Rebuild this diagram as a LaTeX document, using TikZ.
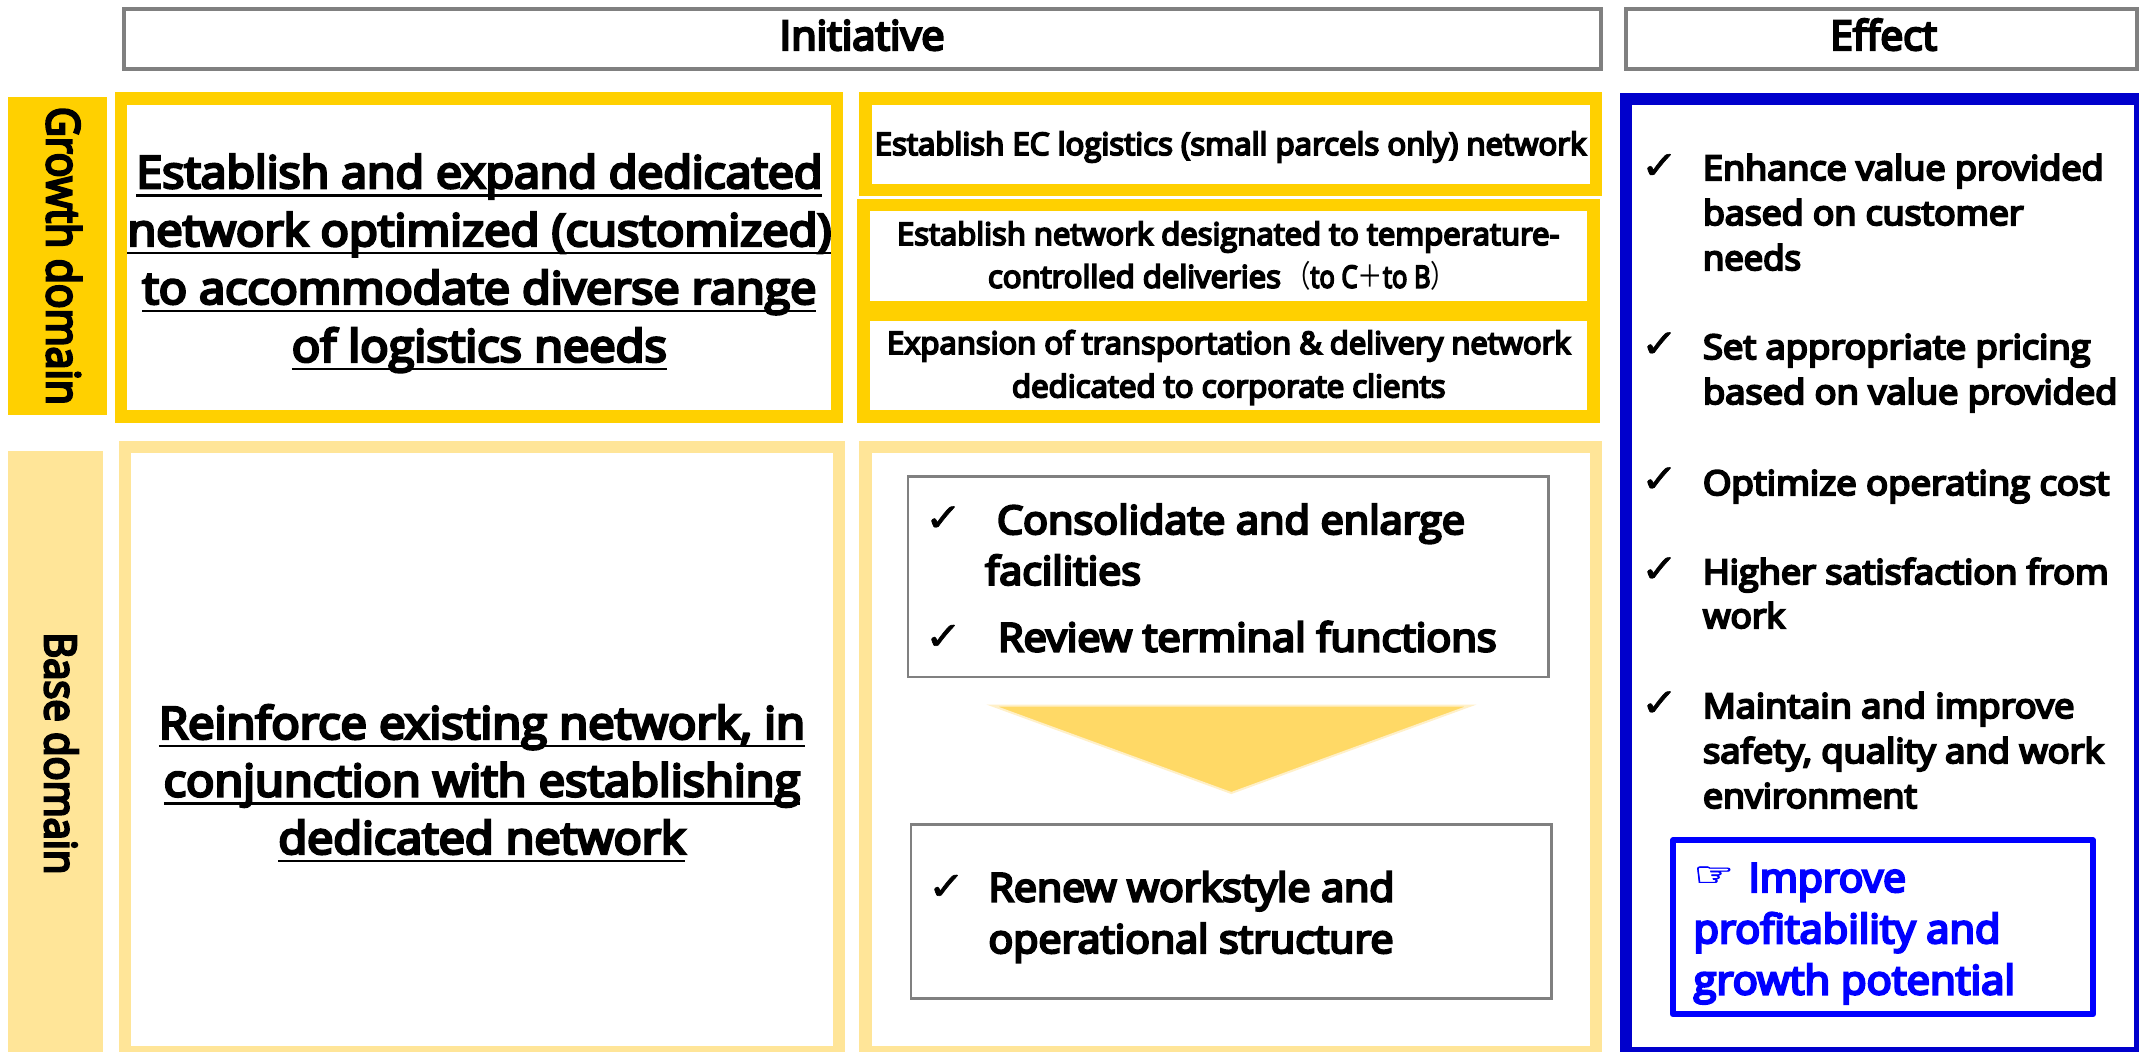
\documentclass[tikz,border=0pt]{standalone}
\usepackage{graphicx}
\usepackage{fontspec}
\setmainfont{Open Sans}
\newfontfamily\semi{Open Sans}[FakeBold=6]
\newfontfamily\djv{DejaVu Sans}[FakeBold=1.5]
\newfontfamily\cjk{Noto Sans CJK JP}
\newdimen\px \px=0.75pt
\definecolor{goldc}{HTML}{FFD000}
\definecolor{paleg}{HTML}{FFE598}
\definecolor{navyb}{HTML}{0000CC}
\definecolor{pureb}{HTML}{0000FF}
\definecolor{grayb}{HTML}{808080}
\definecolor{arrowf}{HTML}{FFD966}
\definecolor{arrowe}{HTML}{FFF0C8}
\newcommand\fw[2]{\resizebox{#1\px}{\height}{#2}}
\newcommand\blk[3]{\vbox{\hsize=#1\px\baselineskip=#2\px\lineskiplimit=-1000pt\relax\parindent=0pt #3}}
\newcommand\lft[2]{\hbox{\fw{#1}{#2}}}
\newcommand\ctr[2]{\hbox to \hsize{\hss\fw{#1}{#2}\hss}}
\newcommand\ulw[2]{\hbox to \hsize{\hss\rlap{\raisebox{-8.5\px}{\rule{#1\px}{2.6\px}}}\fw{#1}{#2}\hss}}
\newcommand\frm[5]{\fill[#1] (#2) rectangle (#3); \fill[white] (#4) rectangle (#5);}
\tikzset{
  txt/.style={inner sep=0pt,outer sep=0pt,anchor=base west,text=black},
  chk/.style={inner sep=0pt,outer sep=0pt,anchor=south west,text=black},
  hdr/.style={draw=grayb,line width=4\px,fill=white},
  graybox/.style={draw=grayb,line width=2.5\px,fill=white},
  side/.style={inner sep=0pt,outer sep=0pt,anchor=base west,rotate=-90,text=black}
}
\newcommand\ck{\resizebox*{37\px}{24.5\px}{\djv ✓}}
\begin{document}
\begin{tikzpicture}[x=0.75pt,y=-0.75pt]
\useasboundingbox (0,0) rectangle (2139,1052);
\fill[white] (0,0) rectangle (2139,1052);
% header boxes
\draw[hdr] (124,9) rectangle (1601,69);
\draw[hdr] (1626,9) rectangle (2137,69);
\node[txt] (hinit) at (779.6,50) {\semi\fontsize{30.5}{36}\selectfont\fw{165}{Initiative}};
\node[txt] (heff) at (1830.3,50) {\semi\fontsize{30.5}{36}\selectfont\fw{106.6}{Effect}};
% domain tabs
\fill[goldc] (8,97) rectangle (107,415);
\fill[paleg] (8,451) rectangle (103,1052);
\node[side] (growth) at (47,107) {\semi\resizebox{298\px}{34.5\px}{Growth domain}};
\node[side] (base) at (45,632.4) {\semi\resizebox{242\px}{33\px}{Base domain}};
% growth frames
\frm{goldc}{115.4,92.3}{843,422.7}{127.4,104.7}{831,410.3}
\frm{goldc}{859,92.3}{1602,195.7}{871.6,104.7}{1589.5,183.7}
\fill[goldc] (857.3,199) rectangle (1600,422.7);
\fill[white] (869.6,211) rectangle (1587.4,301);
\fill[white] (869.6,320.7) rectangle (1587.4,410.3);
% base frames
\frm{paleg}{118.5,440.7}{845.3,1052}{130.5,452.6}{833,1046}
\frm{paleg}{859,440.7}{1602,1052}{871.6,452.6}{1589.5,1046}
% effect frame
\frm{navyb}{1619.6,93.3}{2139,1052}{1631.6,105.3}{2134,1047.3}
% big texts
\node[txt] (bigg) at (127.4,361.7) {\semi\fontsize{33.3}{40}\selectfont\blk{704}{57.9}{%
  \ulw{686}{Establish and expand dedicated}%
  \ulw{704}{network optimized (customized)}%
  \ulw{674}{to accommodate diverse range}%
  \ulw{375}{of logistics needs}}};
\node[txt] (bigb) at (130,853.8) {\semi\fontsize{33.3}{40}\selectfont\blk{704}{57.5}{%
  \ulw{646}{Reinforce existing network, in}%
  \ulw{636.5}{conjunction with establishing}%
  \ulw{407}{dedicated network}}};
% growth detail
\node[txt] (ec) at (874.7,155) {\semi\fontsize{23.2}{30}\selectfont\fw{711.7}{Establish EC logistics (small parcels only) network}};
\node[txt] (temp) at (897,287.7) {\semi\fontsize{23.2}{32}\selectfont\blk{662.4}{42.7}{%
  \lft{662.4}{Establish network designated to temperature-}%
  \hbox{\hskip 91\px\fw{293}{controlled deliveries}\hskip 4\px{\fontsize{23}{24}\selectfont\fw{171}{{\cjk （}to C{\cjk ＋}to B{\cjk ）}}}}}};
\node[txt] (corp) at (887,397.3) {\semi\fontsize{23.2}{32}\selectfont\blk{683.6}{43.3}{%
  \ctr{683.6}{Expansion of transportation \& delivery network}%
  \ctr{433.6}{dedicated to corporate clients}}};
% base detail
\draw[graybox] (907.9,476.4) rectangle (1548.7,677.2);
\draw[graybox] (911,824.4) rectangle (1551.7,998.6);
\draw[draw=arrowe,fill=arrowf,line width=2\px,line join=miter] (992,705.5) -- (1471,705.5) -- (1231.3,793) -- cycle;
\node[chk] (c1) at (925,531) {\ck};
\node[txt] (cons) at (985.4,584.8) {\semi\fontsize{29.5}{36}\selectfont\blk{480}{50.8}{%
  \hbox{\hskip 11.6\px\fw{468}{Consolidate and enlarge}}%
  \lft{155.6}{facilities}}};
\node[chk] (c2) at (925,649.5) {\ck};
\node[txt] (rev) at (998,651.4) {\semi\fontsize{29.5}{36}\selectfont\fw{498.6}{Review terminal functions}};
\node[chk] (c3) at (928,899.5) {\ck};
\node[txt] (ren) at (988.5,953) {\semi\fontsize{29.5}{36}\selectfont\blk{406}{51.6}{%
  \lft{406}{Renew workstyle and}%
  \lft{405}{operational structure}}};
% effect list
\node[chk] (e1) at (1641,178.7) {\ck};
\node[txt] (t1) at (1703,270) {\semi\fontsize{25.5}{32}\selectfont\blk{410}{45}{%
  \lft{400.6}{Enhance value provided}%
  \lft{320.5}{based on customer}%
  \lft{98}{needs}}};
\node[chk] (e2) at (1641,357) {\ck};
\node[txt] (t2) at (1703,404) {\semi\fontsize{25.5}{32}\selectfont\blk{416}{45}{%
  \lft{387.5}{Set appropriate pricing}%
  \lft{414.4}{based on value provided}}};
\node[chk] (e3) at (1641,492) {\ck};
\node[txt] (t3) at (1703,495) {\semi\fontsize{25.5}{32}\selectfont\fw{406.3}{Optimize operating cost}};
\node[chk] (e4) at (1641,582) {\ck};
\node[txt] (t4) at (1703,628) {\semi\fontsize{25.5}{32}\selectfont\blk{410}{44}{%
  \lft{405.6}{Higher satisfaction from}%
  \lft{82}{work}}};
\node[chk] (e5) at (1641,716) {\ck};
\node[txt] (t5) at (1703,808) {\semi\fontsize{25.5}{32}\selectfont\blk{410}{45}{%
  \lft{371.4}{Maintain and improve}%
  \lft{400.6}{safety, quality and work}%
  \lft{214}{environment}}};
% conclusion
\draw[pureb,line width=6\px,line join=round,fill=white] (1673,840.3) rectangle (2093,1014.3);
\node[txt,text=pureb] (impr) at (1693.5,994.3) {\semi\fontsize{30}{38}\selectfont\blk{330}{51.2}{%
  \hbox{\raisebox{5.7\px}{\resizebox*{40.5\px}{19.5\px}{\djv ☞}}\hskip 14.5\px\fw{157.5}{Improve}}%
  \lft{307}{profitability and}%
  \lft{321.5}{growth potential}}};
\end{tikzpicture}
\end{document}
